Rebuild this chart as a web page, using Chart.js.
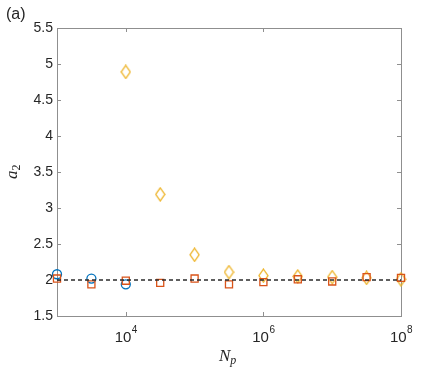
<!DOCTYPE html>
<html>
<head>
<meta charset="utf-8">
<script src="https://cdn.jsdelivr.net/npm/chart.js@4"></script>
<style>
  html, body { margin: 0; padding: 0; background: #fff; }
  #wrap { width: 443px; height: 368px; }
</style>
</head>
<body>
<div id="wrap"><canvas id="c" width="443" height="368"></canvas></div>
<script>
// --- data ---
const circleN = [1e3, 10 ** 3.5, 1e4];
const circleA = [2.08, 2.02, 1.94];

const squareN = [1e3, 10 ** 3.5, 1e4, 10 ** 4.5, 1e5, 10 ** 5.5, 1e6, 10 ** 6.5, 1e7, 10 ** 7.5, 1e8];
const squareA = [2.02, 1.94, 1.99, 1.96, 2.02, 1.94, 1.97, 2.01, 1.98, 2.04, 2.03];

const diamondN = [1e4, 10 ** 4.5, 1e5, 10 ** 5.5, 1e6, 10 ** 6.5, 1e7, 10 ** 7.5, 1e8];
const diamondA = [4.89, 3.19, 2.35, 2.11, 2.06, 2.05, 2.04, 2.03, 2.01];

const refN = [1e3, 1e8];
const refA = [2, 2];

const yTicks = [1.5, 2, 2.5, 3, 3.5, 4, 4.5, 5, 5.5];
const xTickExp = [4, 6, 8];

const BLUE = "#0072BD", ORANGE = "#D95319", YELLOW = "#EDB120";
const AXIS = "#8f8f8f", TEXT = "#262626";

const pts = (xs, ys) => xs.map((x, i) => ({ x, y: ys[i] }));

// tall MATLAB-like diamond marker
const diamond = document.createElement("canvas");
diamond.width = 11; diamond.height = 15;
(function () {
  const g = diamond.getContext("2d");
  g.strokeStyle = YELLOW; g.lineWidth = 1.3;
  g.beginPath();
  g.moveTo(5.5, 1); g.lineTo(10, 7.5); g.lineTo(5.5, 14); g.lineTo(1, 7.5); g.closePath();
  g.stroke();
})();

// axes box, ticks and labels drawn from the chart's scales
const axesPlugin = {
  id: "axes",
  beforeDatasetsDraw(chart) {
    const { ctx, chartArea: a, scales: { x, y } } = chart;
    ctx.save();
    ctx.strokeStyle = AXIS; ctx.lineWidth = 1;
    ctx.strokeRect(a.left + 0.5, a.top + 0.5, a.right - a.left, a.bottom - a.top);
    ctx.beginPath();
    yTicks.forEach((v) => {
      const py = Math.round(y.getPixelForValue(v)) + 0.5;
      ctx.moveTo(a.left, py); ctx.lineTo(a.left + 4, py);
      ctx.moveTo(a.right, py); ctx.lineTo(a.right - 4, py);
    });
    xTickExp.forEach((e) => {
      const px = Math.round(x.getPixelForValue(10 ** e)) + 0.5;
      ctx.moveTo(px, a.bottom); ctx.lineTo(px, a.bottom - 4);
      ctx.moveTo(px, a.top); ctx.lineTo(px, a.top + 4);
    });
    ctx.stroke();
    ctx.restore();
  },
  afterDraw(chart) {
    const { ctx, chartArea: a, scales: { x, y } } = chart;
    ctx.save();
    ctx.fillStyle = TEXT;
    // y tick labels
    ctx.font = "14px 'Liberation Sans', Arial, sans-serif";
    ctx.textAlign = "right"; ctx.textBaseline = "middle";
    yTicks.forEach((v) => ctx.fillText(String(v), a.left - 4, y.getPixelForValue(v)));
    // x tick labels 10^n
    ctx.textBaseline = "alphabetic";
    xTickExp.forEach((e) => {
      const px = x.getPixelForValue(10 ** e);
      ctx.font = "15px 'Liberation Sans', Arial, sans-serif";
      const wb = ctx.measureText("10").width;
      ctx.font = "10px 'Liberation Sans', Arial, sans-serif";
      const we = ctx.measureText(String(e)).width;
      const x0 = px - (wb + we) / 2;
      ctx.textAlign = "left";
      ctx.font = "15px 'Liberation Sans', Arial, sans-serif";
      ctx.fillText("10", x0, a.bottom + 26);
      ctx.font = "10px 'Liberation Sans', Arial, sans-serif";
      ctx.fillText(String(e), x0 + wb + 0.5, a.bottom + 17);
    });
    // x axis title N_p
    const cx = (a.left + a.right) / 2;
    ctx.font = "italic 17px 'Liberation Serif', 'Times New Roman', serif";
    ctx.textAlign = "left";
    const wN = ctx.measureText("N").width;
    ctx.fillText("N", cx - 10, a.bottom + 45);
    ctx.font = "italic 12px 'Liberation Serif', 'Times New Roman', serif";
    ctx.fillText("p", cx - 10 + wN, a.bottom + 48);
    // y axis title a_2
    ctx.save();
    ctx.translate(17, (a.top + a.bottom) / 2);
    ctx.rotate(-Math.PI / 2);
    ctx.font = "italic 17px 'Liberation Serif', 'Times New Roman', serif";
    const wa = ctx.measureText("a").width;
    ctx.fillText("a", -7, 0);
    ctx.font = "12px 'Liberation Serif', 'Times New Roman', serif";
    ctx.fillText("2", -7 + wa, 3);
    ctx.restore();
    // panel label
    ctx.font = "16px 'Liberation Sans', Arial, sans-serif";
    ctx.textAlign = "left"; ctx.textBaseline = "alphabetic";
    ctx.fillText("(a)", 6, 19);
    ctx.restore();
  }
};

new Chart(document.getElementById("c"), {
  type: "scatter",
  data: {
    datasets: [
      { type: "line", data: pts(refN, refA), borderColor: "#2b2b2b", borderWidth: 1.4,
        borderDash: [4, 3], pointRadius: 0, fill: false, clip: false },
      { data: pts(squareN, squareA), pointStyle: "rect", pointRadius: 5, borderWidth: 1.3,
        borderColor: ORANGE, backgroundColor: "rgba(0,0,0,0)", clip: false },
      { data: pts(diamondN, diamondA), pointStyle: diamond, pointRadius: 6,
        borderColor: YELLOW, backgroundColor: "rgba(0,0,0,0)", clip: false },
      { data: pts(circleN, circleA), pointStyle: "circle", pointRadius: 4.5, borderWidth: 1.3,
        borderColor: BLUE, backgroundColor: "rgba(0,0,0,0)", clip: false }
    ]
  },
  options: {
    responsive: false,
    animation: false,
    layout: { padding: { left: 57, right: 42, top: 28, bottom: 52 } },
    scales: {
      x: { type: "logarithmic", min: 1e3, max: 1e8, display: false },
      y: { type: "linear", min: 1.5, max: 5.5, display: false }
    },
    plugins: { legend: { display: false }, tooltip: { enabled: false } }
  },
  plugins: [axesPlugin]
});
</script>
</body>
</html>
